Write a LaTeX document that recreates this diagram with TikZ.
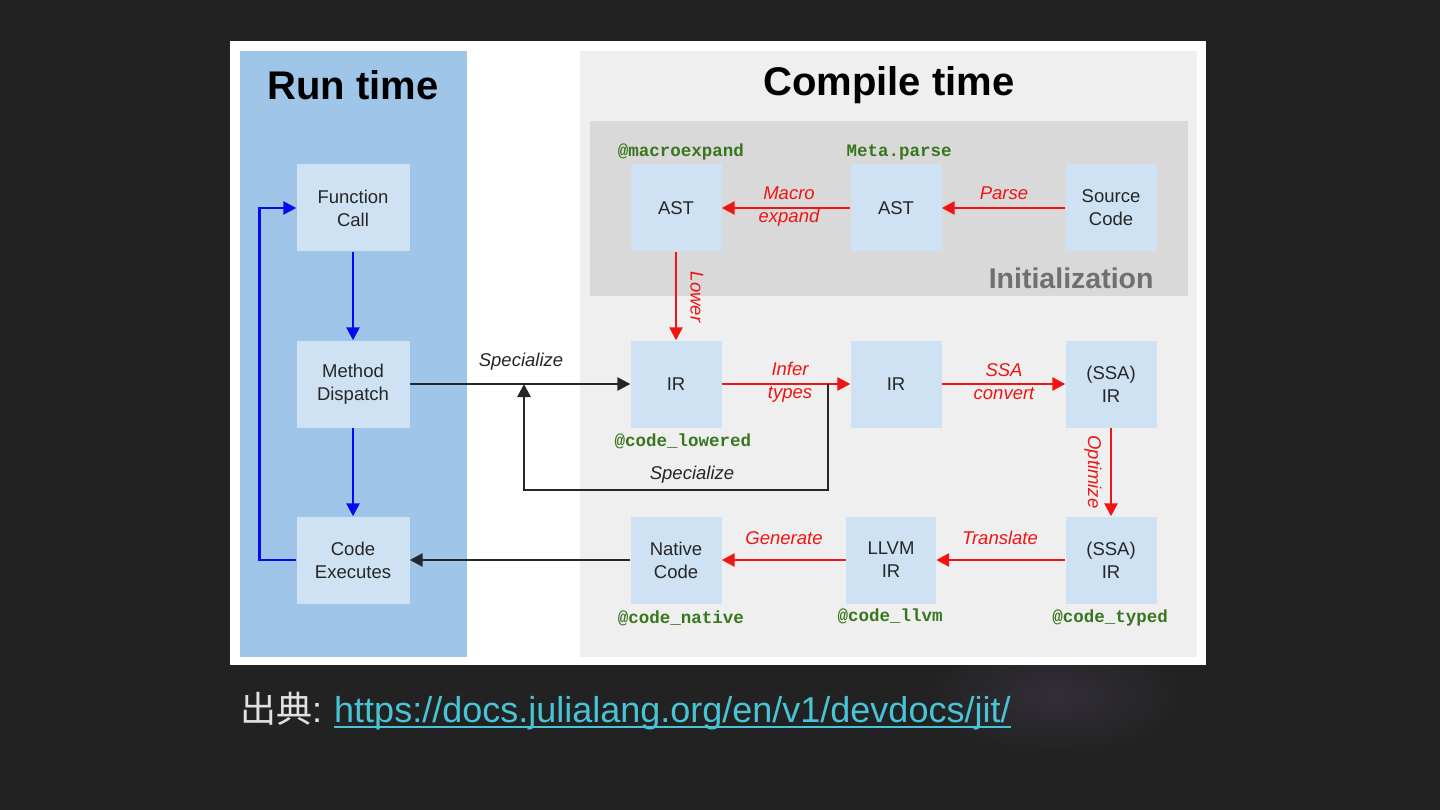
\documentclass[tikz,border=0pt]{standalone}
\usepackage{fontspec}
\setmainfont{Liberation Sans}
\newfontfamily\cjk{Noto Sans CJK SC}
\newfontfamily\monob{Liberation Mono}
\usetikzlibrary{arrows.meta,calc}
\definecolor{bg}{RGB}{34,34,34}
\definecolor{glow}{RGB}{50,46,56}
\definecolor{rtblue}{HTML}{9FC5E8}
\definecolor{boxblue}{HTML}{CFE2F3}
\definecolor{ctgray}{HTML}{EFEFEF}
\definecolor{initgray}{HTML}{D9D9D9}
\definecolor{inittext}{HTML}{707070}
\definecolor{codegreen}{HTML}{38761D}
\definecolor{arrred}{RGB}{240,20,20}
\definecolor{arrblue}{RGB}{10,10,240}
\definecolor{urlcol}{RGB}{72,196,214}
\definecolor{srctext}{RGB}{225,225,225}
\tikzset{
  box/.style={fill=boxblue, minimum width=91pt, minimum height=87pt, inner sep=0pt,
    align=center, font=\fontsize{18.5}{23}\selectfont, text=black!85},
  widebox/.style={box, minimum width=113pt},
  title/.style={font=\bfseries\fontsize{40}{48}\selectfont, text=black},
  code/.style={font=\monob\bfseries\fontsize{17.5}{20}\selectfont, text=codegreen},
  rlab/.style={font=\itshape\fontsize{18.5}{23}\selectfont, text=arrred, align=center, inner sep=0pt},
  blab/.style={font=\itshape\fontsize{18.5}{23}\selectfont, text=black!85, align=center, inner sep=0pt},
  tip/.style={-{Triangle[length=13pt,width=13pt]}},
  rarr/.style={tip, draw=arrred, line width=2.6pt},
  barr/.style={tip, draw=arrblue, line width=2.6pt},
  karr/.style={tip, draw=black!85, line width=2.6pt},
}
\begin{document}
\begin{tikzpicture}[x=1pt,y=-1pt]
\useasboundingbox (0,0) rectangle (1440,810);
\fill[bg] (0,0) rectangle (1440,810);
\shade[inner color=glow, outer color=bg] (1055,695) ellipse [x radius=130pt, y radius=60pt];
% frame and panels
\fill[white] (230,41) rectangle (1206,665);
\fill[rtblue] (240,51) rectangle (467,657);
\fill[ctgray] (580,51) rectangle (1197,657);
\fill[initgray] (590,121) rectangle (1188,296);
\node[title] (rt) at (353,85) {Run time};
\node[title] (ctt) at (889,85) {Compile time};
\node[font=\bfseries\fontsize{28.5}{32}\selectfont, text=inittext, anchor=east] (init) at (1157,278) {Initialization};
% run time boxes
\node[widebox] (fc) at (353,208) {Function\\Call};
\node[widebox] (md) at (353,384) {Method\\Dispatch};
\node[widebox] (ce) at (353,560) {Code\\Executes};
% compile time boxes
\node[box] (ast1) at (676,208) {AST};
\node[box] (ast2) at (896,208) {AST};
\node[box] (src) at (1111,208) {Source\\Code};
\node[box] (ir1) at (676,384) {IR};
\node[box] (ir2) at (896,384) {IR};
\node[box] (ssa1) at (1111,384) {(SSA)\\IR};
\node[box] (nat) at (676,560) {Native\\Code};
\node[box, minimum width=90pt] (llvm) at (891,560) {LLVM\\IR};
\node[box] (ssa2) at (1111,560) {(SSA)\\IR};
% code labels
\node[code] (c1) at (681,152) {@macroexpand};
\node[code] (c2) at (899,152) {Meta.parse};
\node[code] (c3) at (683,441) {@code\_lowered};
\node[code] (c4) at (681,618) {@code\_native};
\node[code] (c5) at (890,616) {@code\_llvm};
\node[code] (c6) at (1110,618) {@code\_typed};
% blue run-time arrows
\draw[barr] (fc.south) -- (md.north);
\draw[barr] (md.south) -- (ce.north);
\draw[barr] (ce.west) -- ++(-37,0) |- (fc.west);
% red compile arrows
\draw[rarr] (src.west) -- (ast2.east);
\draw[rarr] (ast2.west) -- (ast1.east);
\draw[rarr] (ast1.south) -- (ir1.north);
\draw[rarr] (ir1.east) -- (ir2.west);
\draw[rarr] (ir2.east) -- (ssa1.west);
\draw[rarr] (ssa1.south) -- (ssa2.north);
\draw[rarr] (ssa2.west) -- (llvm.east);
\draw[rarr] (llvm.west) -- (nat.east);
% red labels
\node[rlab] (lparse) at (1004,193) {Parse};
\node[rlab] (lmacro) at (789,206.5) {Macro\\expand};
\node[rlab, rotate=-90] (llower) at (697,297) {Lower};
\node[rlab] (linfer) at (790,382) {Infer\\types};
\node[rlab] (lssa) at (1004,382) {SSA\\convert};
\node[rlab, rotate=-90] (lopt) at (1093,472) {Optimize};
\node[rlab] (ltrans) at (1000,538) {Translate};
\node[rlab] (lgen) at (784,538) {Generate};
% black arrows
\draw[karr] (md.east) -- (ir1.west);
\coordinate (fb) at (828,384);
\coordinate (sp) at (524,384);
\draw[karr] (fb) -- (828,490) -| (sp);
\draw[karr] (nat.west) -- (ce.east);
\node[blab] (lspec1) at (521,362) {Specialize};
\node[blab] (lspec2) at (692,475) {Specialize};
% source line
\node[anchor=base west, inner sep=0pt, text=srctext, font=\fontsize{36}{40}\selectfont] (srclab) at (240,722) {{\cjk 出典}:};
\node[anchor=base west, inner sep=0pt, text=urlcol, font=\fontsize{36}{40}\selectfont] (url) at (334,722) {https://docs.julialang.org/en/v1/devdocs/jit/};
\draw[urlcol, line width=2pt] ([yshift=-5pt]url.base west) -- ([yshift=-5pt]url.base east);
\end{tikzpicture}
\end{document}
